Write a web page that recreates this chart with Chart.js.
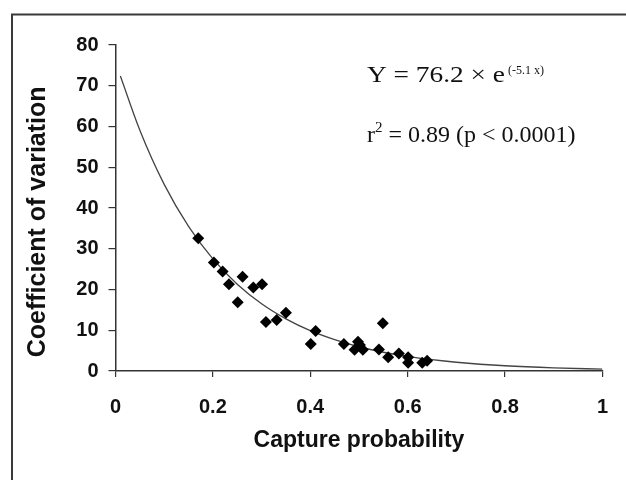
<!DOCTYPE html>
<html>
<head>
<meta charset="utf-8">
<script src="https://cdn.jsdelivr.net/npm/chart.js"></script>
<style>
  html, body { margin: 0; padding: 0; background: #fff; }
  #wrap { width: 626px; height: 480px; }
</style>
</head>
<body>
<div id="wrap"><canvas id="cvChart" width="626" height="480"></canvas></div>
<script>
// observed points (capture probability vs CV)
const captureProb = [0.170, 0.202, 0.220, 0.233, 0.261, 0.251, 0.283, 0.301, 0.309, 0.331,
    0.350, 0.411, 0.401, 0.469, 0.498, 0.491, 0.508, 0.502, 0.549, 0.541,
    0.560, 0.582, 0.601, 0.601, 0.630, 0.640];
const coeffVar = [32.6, 26.6, 24.4, 21.3, 23.1, 16.9, 20.5, 21.3, 12.0, 12.5,
    14.3, 9.8, 6.6, 6.6, 7.2, 5.2, 5.2, 6.4, 11.7, 5.3,
    3.4, 4.3, 3.4, 2.0, 2.0, 2.5];

// fitted curve
const fitX = [0.01, 0.05, 0.1, 0.15, 0.2, 0.25, 0.3, 0.35, 0.4, 0.45, 0.5, 0.55, 0.6, 0.65, 0.7, 0.8, 0.9, 1.0];
const fitY = [72.4, 59.1, 45.8, 35.5, 27.5, 21.3, 16.5, 12.8, 9.9, 7.7, 5.95, 4.6, 3.57, 2.77, 2.15, 1.29, 0.77, 0.46];

const xTicks = [0, 0.2, 0.4, 0.6, 0.8, 1];
const yTicks = [0, 10, 20, 30, 40, 50, 60, 70, 80];

const equationText = 'Y = 76.2 \u00d7 e';
const equationExp = '(-5.1 x)';
const rSquaredRest = ' = 0.89 (p < 0.0001)';

const ink = '#111';
const axisInk = '#333';
const serif = '"Liberation Serif", "Times New Roman", serif';
const sans = '"Liberation Sans", Arial, sans-serif';

// frame + equation annotations
const annotatePlugin = {
    id: 'annotate',
    beforeDraw(chart) {
        const ctx = chart.ctx;
        ctx.save();
        ctx.fillStyle = '#fff';
        ctx.fillRect(0, 0, chart.width, chart.height);
        ctx.strokeStyle = '#3a3a3a';
        ctx.lineWidth = 2;
        ctx.beginPath();
        ctx.moveTo(12, chart.height);
        ctx.lineTo(12, 14.5);
        ctx.lineTo(chart.width, 14.5);
        ctx.stroke();
        ctx.restore();
    },
    afterDraw(chart) {
        const ctx = chart.ctx;
        ctx.save();
        ctx.fillStyle = ink;
        ctx.textBaseline = 'alphabetic';
        ctx.textAlign = 'left';

        // first line is set a little wider in the source
        ctx.font = '24px ' + serif;
        const w = ctx.measureText(equationText).width;
        ctx.save();
        ctx.translate(367, 82);
        ctx.scale(138 / w, 1);
        ctx.fillText(equationText, 0, 0);
        ctx.restore();
        ctx.font = '12px ' + serif;
        ctx.fillText(equationExp, 508, 74);

        ctx.font = '24px ' + serif;
        let x = 367;
        ctx.fillText('r', x, 142);
        x += ctx.measureText('r').width;
        ctx.font = '15px ' + serif;
        ctx.fillText('2', x, 132);
        x += ctx.measureText('2').width;
        ctx.font = '24px ' + serif;
        ctx.fillText(rSquaredRest, x, 142);
        ctx.restore();
    }
};

const ctx = document.getElementById('cvChart').getContext('2d');
new Chart(ctx, {
    type: 'scatter',
    data: {
        datasets: [
            {
                label: 'Observed',
                data: captureProb.map((v, i) => ({ x: v, y: coeffVar[i] })),
                pointStyle: 'rectRot',
                pointRadius: 6,
                pointHoverRadius: 6,
                backgroundColor: '#000',
                borderColor: '#000',
                borderWidth: 0,
                order: 1
            },
            {
                label: 'Fit',
                type: 'line',
                data: fitX.map((v, i) => ({ x: v, y: fitY[i] })),
                borderColor: '#444',
                borderWidth: 1.3,
                pointRadius: 0,
                fill: false,
                cubicInterpolationMode: 'monotone',
                order: 2
            }
        ]
    },
    options: {
        responsive: false,
        animation: false,
        layout: { padding: { left: 12, top: 45, right: 23, bottom: 0 } },
        plugins: {
            legend: { display: false },
            tooltip: { enabled: false }
        },
        scales: {
            x: {
                type: 'linear',
                min: 0,
                max: 1,
                afterBuildTicks: (scale) => { scale.ticks = xTicks.map(v => ({ value: v })); },
                afterFit: (scale) => { scale.height = 109; },
                border: { display: true, color: axisInk, width: 1.5 },
                grid: { display: true, drawOnChartArea: false, drawTicks: true, tickLength: 6, color: axisInk, lineWidth: 1.2 },
                ticks: {
                    color: ink,
                    padding: 18,
                    maxRotation: 0,
                    font: { family: sans, size: 20, weight: 'bold' },
                    callback: (v) => String(v)
                },
                title: {
                    display: true,
                    text: 'Capture probability',
                    color: ink,
                    padding: { top: 0, bottom: 26 },
                    font: { family: sans, size: 23, weight: 'bold' }
                }
            },
            y: {
                type: 'linear',
                min: 0,
                max: 80,
                afterBuildTicks: (scale) => { scale.ticks = yTicks.map(v => ({ value: v })); },
                afterFit: (scale) => { scale.width = 103.5; },
                border: { display: true, color: axisInk, width: 1.5 },
                grid: { display: true, drawOnChartArea: false, drawTicks: true, tickLength: 7, color: axisInk, lineWidth: 1.2 },
                ticks: {
                    color: ink,
                    padding: 10,
                    font: { family: sans, size: 20, weight: 'bold' }
                },
                title: {
                    display: true,
                    // trailing spaces nudge the centred title down to where the source has it
                    text: 'Coefficient of variation    ',
                    color: ink,
                    padding: { top: 11, bottom: 0 },
                    font: { family: sans, size: 25, weight: 'bold' }
                }
            }
        }
    },
    plugins: [annotatePlugin]
});
</script>
</body>
</html>
